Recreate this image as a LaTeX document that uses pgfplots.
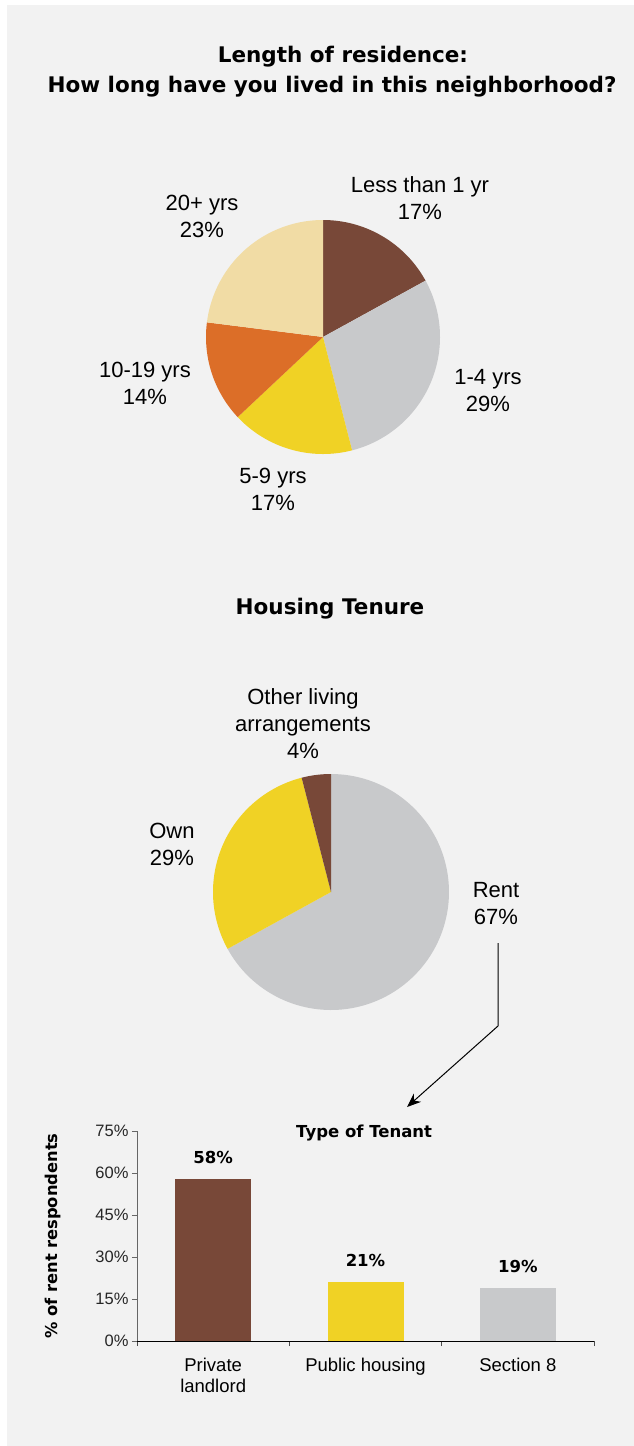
\documentclass[border=0pt]{standalone}
\usepackage{pgfplots}
\pgfplotsset{compat=1.18}
\usepackage{fontspec}
\setmainfont{Liberation Sans}
\newfontfamily\heavy{DejaVu Sans}
\usetikzlibrary{arrows.meta}
\definecolor{bg}{HTML}{F2F2F2}
\definecolor{cbrown}{HTML}{784838}
\definecolor{cgray}{HTML}{C8C9CB}
\definecolor{cyellow}{HTML}{F0D225}
\definecolor{corange}{HTML}{DC6E28}
\definecolor{cbeige}{HTML}{F1DCA5}
\newcommand\lab{\fontsize{22}{27}\selectfont}
\newcommand\hd{\heavy\bfseries\fontsize{21.5}{30}\selectfont}
\gdef\cum{0}
\newcommand\pieslice[2]{%
  \pgfmathsetmacro\aEnd{90-3.6*\cum}%
  \pgfmathsetmacro\aStart{90-3.6*(\cum+#1)}%
  \edef\doslice{\noexpand\addplot[fill=#2,draw=none,domain=\aStart:\aEnd,samples=120] ({cos(x)},{sin(x)}) -- (axis cs:0,0) -- cycle;}%
  \doslice
  \pgfmathsetmacro\newcum{\cum+#1}%
  \xdef\cum{\newcum}%
}
\pgfplotsset{pieaxis/.style={anchor=center, hide axis, scale only axis, x=117pt, y=117pt,
  xmin=-1, xmax=1, ymin=-1, ymax=1, clip=false}}
\begin{document}
\begin{tikzpicture}
\fill[white] (0,0) rectangle (634pt,-1446pt);
\fill[bg] (7pt,-5pt) rectangle (634pt,-1446pt);
% titles
\node[font=\hd] at (343pt,-57pt) {Length of residence:};
\node[font=\hd] at (332pt,-87pt) {How long have you lived in this neighborhood?};
\node[font=\hd] at (330pt,-609pt) {Housing Tenure};
% pie 1
\gdef\cum{0}
\begin{axis}[pieaxis, at={(323pt,-337pt)}]
\pieslice{17}{cbrown}
\pieslice{29}{cgray}
\pieslice{17}{cyellow}
\pieslice{14}{corange}
\pieslice{23}{cbeige}
\end{axis}
\node[align=center, font=\lab] at (420pt,-198.5pt) {Less than 1 yr\\17\%};
\node[align=center, font=\lab] at (488pt,-390.5pt) {1-4 yrs\\29\%};
\node[align=center, font=\lab] at (273pt,-489pt) {5-9 yrs\\17\%};
\node[align=center, font=\lab] at (145pt,-383.5pt) {10-19 yrs\\14\%};
\node[align=center, font=\lab] at (202pt,-216.5pt) {20+ yrs\\23\%};
% pie 2
\gdef\cum{0}
\begin{axis}[pieaxis, at={(331pt,-892pt)}, x=118pt, y=118pt]
\pieslice{67}{cgray}
\pieslice{29}{cyellow}
\pieslice{4}{cbrown}
\end{axis}
\node[align=center, font=\lab] at (303pt,-723.5pt) {Other living\\arrangements\\4\%};
\node[align=center, font=\lab] at (172pt,-844.5pt) {Own\\29\%};
\node[align=center, font=\lab] at (496pt,-903.5pt) {Rent\\67\%};
\draw[line width=1pt, -{Stealth[length=14pt, width=11pt]}] (498pt,-943pt) -- (498pt,-1026pt) -- (407pt,-1107pt);
% bar chart
\begin{axis}[at={(137pt,-1341pt)}, anchor=south west, scale only axis,
  width=457pt, height=210pt, xmin=0.5, xmax=3.5, ymin=0, ymax=75,
  enlargelimits=false, clip=false,
  axis x line=bottom, axis y line=left, axis line style={-},
  x axis line style={draw=black, line width=0.9pt},
  y axis line style={draw=black!60, line width=0.8pt},
  /pgf/number format/assume math mode=true,
  tick align=outside, major tick length=5pt, minor tick length=5pt,
  ytick={0,15,30,45,60,75}, yticklabel={\pgfmathprintnumber{\tick}\%},
  yticklabel style={font=\fontsize{16.5}{19}\selectfont, color=black!85},
  ytick style={draw=black!60, line width=0.8pt},
  xtick={1,2,3}, xticklabels={Private\\landlord, Public housing, Section 8},
  xticklabel style={align=center, font=\fontsize{18.5}{21}\selectfont, yshift=-9pt},
  major x tick style={draw=none},
  minor xtick={0.5,1.5,2.5,3.5},
  minor x tick style={draw=black!70, line width=0.8pt},
  title={Type of Tenant},
  title style={font=\heavy\bfseries\fontsize{16.5}{19}\selectfont, at={(axis description cs:0.497,1)}, anchor=center, yshift=-8pt},
  ylabel={\% of rent respondents},
  ylabel style={font=\heavy\bfseries\fontsize{16.3}{19}\selectfont, at={(axis description cs:-0.184,0.5)}, anchor=center},
  ybar, bar width=76pt, bar shift=0pt,
  nodes near coords={\pgfmathprintnumber{\pgfplotspointmeta}\%},
  every node near coord/.append style={font=\heavy\bfseries\fontsize{16.5}{19}\selectfont, inner sep=0pt, yshift=15pt, anchor=south},
]
\addplot[fill=cbrown, draw=none] coordinates {(1,58)};
\addplot[fill=cyellow, draw=none] coordinates {(2,21)};
\addplot[fill=cgray, draw=none] coordinates {(3,19)};
\end{axis}
\pgfresetboundingbox
\path (0,0) rectangle (634pt,-1446pt);
\end{tikzpicture}
\end{document}
